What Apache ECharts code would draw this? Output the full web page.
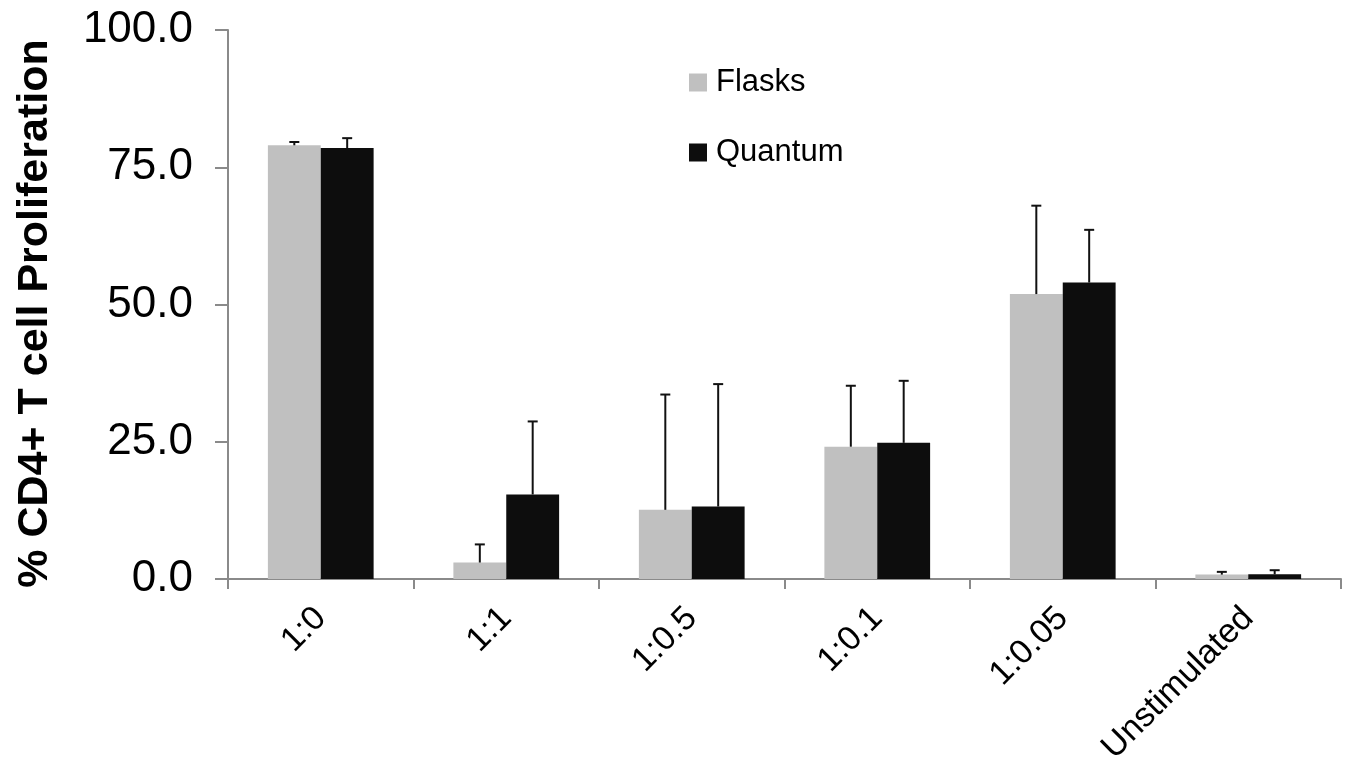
<!DOCTYPE html>
<html>
<head>
<meta charset="utf-8">
<script src="https://cdn.jsdelivr.net/npm/echarts@6/dist/echarts.min.js"></script>
<style>
html,body{margin:0;padding:0;background:#fff;}
#chart{width:1352px;height:762px;}
</style>
</head>
<body>
<div id="chart"></div>
<script>
var categories = ['1:0', '1:1', '1:0.5', '1:0.1', '1:0.05', 'Unstimulated'];
var flasks = [79.0, 3.0, 12.6, 24.1, 51.9, 0.8];
var flasksErr = [0.6, 3.3, 21.0, 11.1, 16.1, 0.5];
var quantum = [78.5, 15.4, 13.2, 24.8, 54.0, 0.85];
var quantumErr = [1.8, 13.3, 22.3, 11.3, 9.6, 0.75];
var yTicks = [0, 25, 50, 75, 100];

var FONT = '"Liberation Sans", Arial, sans-serif';
var AXIS_COLOR = '#8a8a8a';
var CAT_GAP = 0.43;

function errData(vals, errs) {
  return vals.map(function (v, i) { return [i, v, v + errs[i]]; });
}

function errRenderer(side) {
  return function (params, api) {
    var idx = api.value(0);
    var base = api.coord([idx, api.value(1)]);
    var top = api.coord([idx, api.value(2)]);
    var catW = api.size([1, 0])[0];
    var barW = catW * (1 - CAT_GAP) / 2;
    var x = base[0] + side * barW / 2;
    var cap = 5;
    return {
      type: 'group',
      children: [
        { type: 'line', shape: { x1: x, y1: base[1], x2: x, y2: top[1] },
          style: { stroke: '#111', lineWidth: 2 } },
        { type: 'line', shape: { x1: x - cap, y1: top[1], x2: x + cap, y2: top[1] },
          style: { stroke: '#111', lineWidth: 2 } }
      ]
    };
  };
}

var chart = echarts.init(document.getElementById('chart'));
chart.setOption({
  animation: false,
  backgroundColor: '#fff',
  textStyle: { fontFamily: FONT },
  grid: { left: 228, right: 11, top: 30, bottom: 183, containLabel: false, outerBoundsMode: 'none' },
  legend: {
    orient: 'vertical',
    left: 684,
    top: 62,
    itemWidth: 18,
    itemHeight: 18,
    itemGap: 39,
    icon: 'rect',
    data: ['Flasks', 'Quantum'],
    textStyle: { fontFamily: FONT, fontSize: 31, color: '#000', lineHeight: 31, padding: [0, 0, 0, 4] },
    selectedMode: false
  },
  xAxis: {
    type: 'category',
    data: categories,
    boundaryGap: true,
    axisLine: { lineStyle: { color: AXIS_COLOR, width: 2 } },
    axisTick: { show: true, length: 10, lineStyle: { color: AXIS_COLOR, width: 2 }, alignWithLabel: false },
    axisLabel: { rotate: 45, fontSize: 34, color: '#000', fontFamily: FONT, margin: 34, interval: 0 }
  },
  yAxis: {
    type: 'value',
    min: 0,
    max: 100,
    interval: 25,
    name: '% CD4+ T cell Proliferation',
    nameLocation: 'middle',
    nameGap: 171,
    nameRotate: 90,
    nameTextStyle: { fontFamily: FONT, fontSize: 43, fontWeight: 'bold', color: '#000', padding: [0, 18, 0, 0] },
    splitLine: { show: false },
    axisLine: { show: true, lineStyle: { color: AXIS_COLOR, width: 2 } },
    axisTick: { show: true, length: 13, lineStyle: { color: AXIS_COLOR, width: 2 } },
    axisLabel: {
      fontSize: 44, color: '#000', fontFamily: FONT, margin: 35,
      formatter: function (v) { return v.toFixed(1); }
    }
  },
  series: [
    { name: 'Flasks', type: 'bar', data: flasks, barGap: '0%', barCategoryGap: (CAT_GAP * 100) + '%',
      itemStyle: { color: '#c0c0c0' } },
    { name: 'Quantum', type: 'bar', data: quantum, barGap: '0%', barCategoryGap: (CAT_GAP * 100) + '%',
      itemStyle: { color: '#0d0d0d' } },
    { name: 'FlasksErr', type: 'custom', renderItem: errRenderer(-1), data: errData(flasks, flasksErr),
      encode: { x: 0, y: [1, 2] }, z: 3 },
    { name: 'QuantumErr', type: 'custom', renderItem: errRenderer(1), data: errData(quantum, quantumErr),
      encode: { x: 0, y: [1, 2] }, z: 3 }
  ]
});
</script>
</body>
</html>
